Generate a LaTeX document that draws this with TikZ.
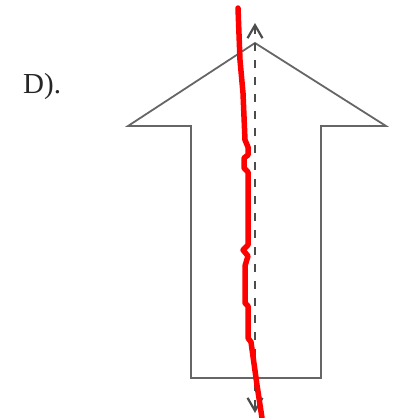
\documentclass[tikz,border=0pt]{standalone}
\usepackage{fontspec}
\setmainfont{Liberation Serif}
\usetikzlibrary{arrows.meta}
\begin{document}
\begin{tikzpicture}[x=1pt, y=-1pt, >={Straight Barb[length=13pt,width=15pt]}]
	\useasboundingbox (0,0) rectangle (398,418);
	\tikzset{outline/.style={black!60, line width=1.8pt, line join=miter},
		axis/.style={<->, black!70, line width=2.2pt, dash pattern=on 8pt off 9pt},
		stroke/.style={red, line width=5.5pt, line cap=round, line join=round}}
	\node [anchor=base west, inner sep=0pt, text=black!85,
		font=\fontsize{29}{29}\selectfont] (lbl) at (23,93) {D).};
	% arrow outline
	\draw[outline] (255,43) -- (386,126) -- (321,126) -- (321,378)
		-- (191,378) -- (191,126) -- (128,126) -- cycle;
	% symmetry axis
	\coordinate (top) at (255,23);
	\coordinate (bot) at (255,413);
	\draw[axis] (top) -- (bot);
	% hand drawn line
	\draw[stroke] plot coordinates {(238,8) (240,60) (243,93) (245,140)
		(248,147) (248,155) (244,158) (244,168) (248,172) (248,245)
		(243,250) (248,256) (245,266) (245,303) (248,306) (248,338)
		(251,342) (257,385) (262,418)};
\end{tikzpicture}
\end{document}
